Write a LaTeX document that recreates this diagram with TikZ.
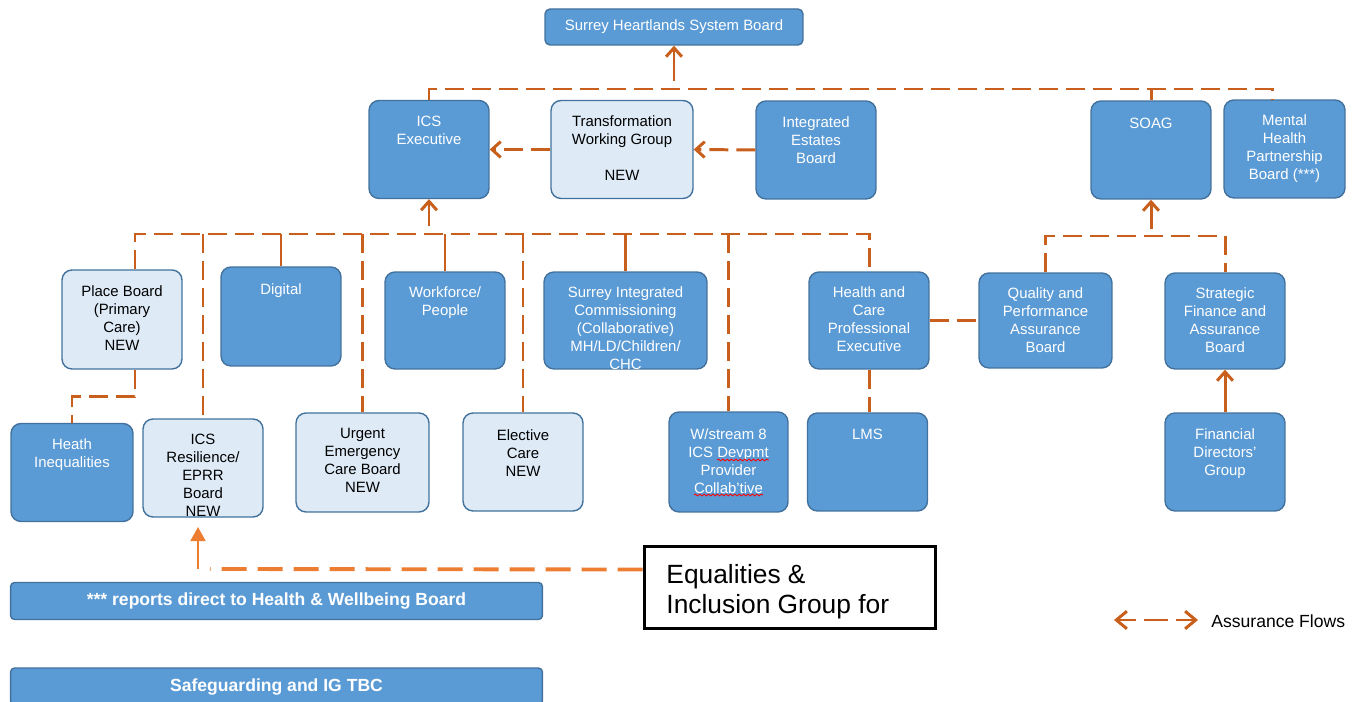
\documentclass[tikz,border=0pt]{standalone}
\usepackage{fontspec}
\setmainfont{Liberation Sans}
\usetikzlibrary{positioning, arrows.meta, decorations.pathmorphing}
\definecolor{boxblue}{RGB}{91,155,213}
\definecolor{boxedge}{RGB}{65,113,156}
\definecolor{boxlight}{RGB}{222,235,247}
\definecolor{flowc}{RGB}{200,95,28}
\definecolor{eqorange}{RGB}{237,125,49}

\begin{document}
\begin{tikzpicture}[x=0.02cm, y=-0.02cm]
\tikzstyle{dbox} = [rectangle, rounded corners=0.2cm, draw=boxedge, line width=0.8pt, fill=boxblue,
                    minimum width=2.4cm, minimum height=1.96cm, inner sep=0pt]
\tikzstyle{lbox} = [dbox, fill=boxlight]
\tikzstyle{bar} = [dbox, rounded corners=0.08cm, minimum width=10.64cm, minimum height=0.74cm,
                   text=white, font=\fontsize{10}{12}\selectfont\bfseries]
\tikzstyle{wtxt} = [inner sep=0pt, align=center, text=white, font=\fontsize{8.5}{10.2}\selectfont]
\tikzstyle{btxt} = [wtxt, text=black]
\tikzstyle{flow} = [draw=flowc, line width=1.7pt, dash pattern=on 0.38cm off 0.16cm]
\tikzstyle{link} = [draw=flowc, line width=1.7pt]
\tikzstyle{flowarrow} = [link, -{Straight Barb[length=5pt, width=9pt]}]
\tikzstyle{eqflow} = [draw=eqorange, line width=2.2pt, dash pattern=on 0.5cm off 0.22cm]
\tikzstyle{spell} = [red, line width=0.5pt, decorate, decoration={snake, amplitude=0.5pt, segment length=2.5pt}]

\useasboundingbox (0,0) rectangle (1360,702);

\node[dbox, minimum width=5.16cm, minimum height=0.72cm, rounded corners=0.1cm, text=white,
      font=\fontsize{8.5}{10.2}\selectfont] (shb) at (674,27) {Surrey Heartlands System Board};

\node[dbox] (icsexec) at (429,149.5) {};
\node[wtxt, below=0.32cm of icsexec.north] (icsexec-t) {ICS\\Executive};
\node[lbox, minimum width=2.84cm] (twg) at (622,149.5) {};
\node[btxt, below=0.32cm of twg.north] (twg-t) {Transformation\\Working Group\\[10.2pt]NEW};
\node[dbox] (ieb) at (816,150) {};
\node[wtxt, below=0.32cm of ieb.north] (ieb-t) {Integrated\\Estates\\Board};
\node[dbox] (soag) at (1151,150) {};
\node[wtxt, below=0.34cm of soag.north] (soag-t) {SOAG};
\node[dbox, minimum width=2.42cm] (mhpb) at (1284.5,149) {};
\node[wtxt, below=0.31cm of mhpb.north] (mhpb-t) {Mental\\Health\\Partnership\\Board (***)};

\node[lbox, minimum height=1.98cm] (place) at (122,319.5) {};
\node[btxt, below=0.32cm of place.north] (place-t) {Place Board\\(Primary\\Care)\\NEW};
\node[dbox, minimum height=1.98cm] (digital) at (281,316.5) {};
\node[wtxt, below=0.34cm of digital.north] (digital-t) {Digital};
\node[dbox, minimum height=1.94cm] (workforce) at (445,320.5) {};
\node[wtxt, below=0.3cm of workforce.north] (workforce-t) {Workforce/\\People};
\node[dbox, minimum width=3.26cm, minimum height=1.94cm] (sic) at (625.5,320.5) {};
\node[wtxt, below=0.3cm of sic.north] (sic-t) {Surrey Integrated\\Commissioning\\(Collaborative)\\MH/LD/Children/\\CHC};
\node[dbox, minimum height=1.94cm] (hcpe) at (869,320.5) {};
\node[wtxt, below=0.3cm of hcpe.north] (hcpe-t) {Health and\\Care\\Professional\\Executive};
\node[dbox, minimum width=2.66cm, minimum height=1.9cm] (qpab) at (1045.5,320.5) {};
\node[wtxt, below=0.31cm of qpab.north] (qpab-t) {Quality and\\Performance\\Assurance\\Board};
\node[dbox, minimum height=1.92cm] (sfab) at (1225,321) {};
\node[wtxt, below=0.31cm of sfab.north] (sfab-t) {Strategic\\Finance and\\Assurance\\Board};

\node[dbox, minimum width=2.44cm] (heath) at (72,472.5) {};
\node[wtxt, below=0.31cm of heath.north] (heath-t) {Heath\\Inequalities};
\node[lbox] (eprr) at (203,468) {};
\node[btxt, below=0.31cm of eprr.north] (eprr-t) {ICS\\Resilience/\\EPRR\\Board\\NEW};
\node[lbox, minimum width=2.66cm, minimum height=1.98cm] (urgent) at (362.5,462.5) {};
\node[btxt, below=0.32cm of urgent.north] (urgent-t) {Urgent\\Emergency\\Care Board\\NEW};
\node[lbox] (elective) at (523,462) {};
\node[btxt, below=0.34cm of elective.north] (elective-t) {Elective\\Care\\NEW};
\node[dbox, minimum width=2.38cm, minimum height=2cm] (wstream) at (728.5,462) {};
\node[wtxt, below=0.34cm of wstream.north] (wstream-t) {W/stream 8\\ICS Devpmt\\Provider\\Collab'tive};
\node[dbox] (lms) at (867.5,462) {};
\node[wtxt, below=0.32cm of lms.north] (lms-t) {LMS};
\node[dbox] (fdg) at (1225,462) {};
\node[wtxt, below=0.32cm of fdg.north] (fdg-t) {Financial\\Directors'\\Group};

\node[bar] (reports) at (276.5,601) {*** reports direct to Health \& Wellbeing Board};
\node[bar] (safeguard) at (276.5,686.5) {Safeguarding and IG TBC};

\node[rectangle, draw=black, line width=2.2pt, fill=white, minimum width=5.82cm,
      minimum height=1.64cm, inner sep=0pt] (equal) at (790,587.5) {};
\node[inner sep=0pt, align=left, font=\fontsize{15}{17}\selectfont,
      below right=0.39cm and 0.47cm of equal.north west] (equal-t) {Equalities \&\\Inclusion Group for};

\node[anchor=west, inner sep=0pt, font=\fontsize{10}{12}\selectfont] (legend) at (1211,621) {Assurance Flows};

\coordinate (top) at (674,89);
\coordinate (bus) at (429,234);
\coordinate (bus2) at (1151,236);
\coordinate (eqcorner) at (198,569);
\coordinate (eqtip) at (198,527);
\coordinate (lga) at (1114,620);
\coordinate (lgb) at (1198,620);

\draw[flow] (icsexec.north) |- (top) -| ([xshift=-0.25cm]mhpb.north);
\draw[link] (top -| soag.north) -- (soag.north);
\draw[flowarrow] ([yshift=0.16cm]top) -- (shb.south);
\draw[flow, -{Straight Barb[length=5pt, width=9pt]}] (twg.west) -- (icsexec.east);
\draw[flow, -{Straight Barb[length=5pt, width=9pt]}] (ieb.west) -- (twg.east);

\draw[flow] ([xshift=0.26cm]place.north) |- (bus) -| (hcpe.north);
\draw[flowarrow] ([yshift=0.16cm]bus) -- (icsexec.south);
\draw[flow] (bus -| eprr.north) -- (eprr.north);
\draw[link] (bus -| digital.north) -- (digital.north);
\draw[flow] (bus -| urgent.north) -- (urgent.north);
\draw[link] (bus -| workforce.north) -- (workforce.north);
\draw[flow] (bus -| elective.north) -- (elective.north);
\draw[link] (bus -| sic.north) -- (sic.north);
\draw[flow] (bus -| wstream.north) -- (wstream.north);
\draw[flow] (hcpe.south) -- (hcpe.south |- lms.north);
\draw[flow] (hcpe.east) -- (qpab.west);
\draw[flow] ([xshift=0.26cm]place.south) -- ++(0,27) -| (heath.north);

\draw[flow] (qpab.north) |- (bus2) -| (sfab.north);
\draw[flowarrow] ([yshift=0.14cm]bus2) -- (soag.south);
\draw[flowarrow] (fdg.north) -- (sfab.south);

\draw[eqflow] ([yshift=0.36cm]equal.west) -- ([xshift=0.24cm]eqcorner);
\draw[draw=eqorange, line width=1.2pt, -{Triangle[length=8pt, width=8.5pt]}] (eqcorner) -- (eqtip);

\draw[link, dash pattern=on 0.36cm off 0.16cm on 0.48cm off 0.16cm on 0.6cm,
      {Straight Barb[length=6pt, width=10pt]}-{Straight Barb[length=6pt, width=10pt]}] (lga) -- (lgb);

\draw[spell] (717,460) -- (769,460);
\draw[spell] (694,495) -- (763,495);
\end{tikzpicture}
\end{document}
